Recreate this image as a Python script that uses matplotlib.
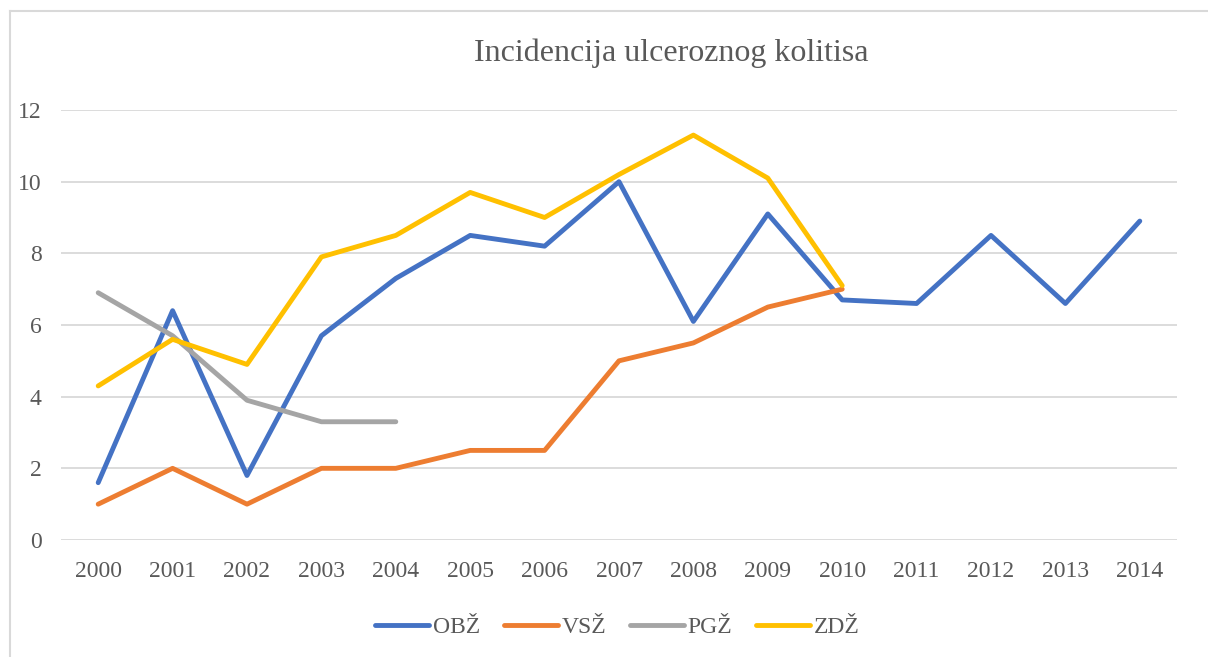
import matplotlib
matplotlib.use("Agg")
from matplotlib import pyplot as plt
from matplotlib.lines import Line2D

years = ['2000', '2001', '2002', '2003', '2004', '2005', '2006', '2007',
         '2008', '2009', '2010', '2011', '2012', '2013', '2014']
obz = [1.6, 6.4, 1.8, 5.7, 7.3, 8.5, 8.2, 10.0, 6.1, 9.1, 6.7, 6.6, 8.5, 6.6, 8.9]
vsz = [1.0, 2.0, 1.0, 2.0, 2.0, 2.5, 2.5, 5.0, 5.5, 6.5, 7.0]
pgz = [6.9, 5.7, 3.9, 3.3, 3.3]
zdz = [4.3, 5.6, 4.9, 7.9, 8.5, 9.7, 9.0, 10.2, 11.3, 10.1, 7.1]

series = [('OBŽ', obz, '#4472C4'), ('VSŽ', vsz, '#ED7D31'),
          ('PGŽ', pgz, '#A5A5A5'), ('ZDŽ', zdz, '#FFC000')]

plt.rcParams['font.family'] = ['Liberation Serif', 'DejaVu Serif']
text_col = '#595959'

fig = plt.figure(figsize=(12.08, 6.57), dpi=100)
ax = fig.add_axes([61 / 1208, 117 / 657, 1116 / 1208, 430 / 657])

for name, vals, col in series:
    ax.plot(range(len(vals)), vals, color=col, lw=3.5, label=name,
            solid_capstyle='round', solid_joinstyle='round')

ax.set_xlim(-0.5, len(years) - 0.5)
ax.set_ylim(0, 12)
ax.set_yticks(range(0, 13, 2))
ax.set_xticks(range(len(years)))
ax.set_xticklabels(years)
ax.tick_params(axis='both', length=0, labelsize=17, labelcolor=text_col)
ax.tick_params(axis='y', pad=14)
ax.tick_params(axis='x', pad=15)
ax.grid(axis='y', color='#d9d9d9', lw=1.3)
ax.set_axisbelow(True)
for s in ax.spines.values():
    s.set_visible(False)

fig.text(0.556, 1 - 53 / 657, 'Incidencija ulceroznog kolitisa', ha='center',
         va='center', fontsize=23, color=text_col)

handles = [Line2D([], [], color=c, lw=3.5, solid_capstyle='round') for _, _, c in series]
fig.legend(handles, [n for n, _, _ in series], loc='center',
           bbox_to_anchor=(0.511, 1 - 627 / 657), ncol=4, frameon=False,
           fontsize=17, labelcolor=text_col, handlelength=2.3,
           handletextpad=0.15, columnspacing=1.0)

# light frame like the exported chart area
fig.add_artist(Line2D([10 / 1208, 1], [1 - 11 / 657, 1 - 11 / 657],
                      color='#d9d9d9', lw=1.5, transform=fig.transFigure))
fig.add_artist(Line2D([10 / 1208, 10 / 1208], [0, 1 - 11 / 657],
                      color='#d9d9d9', lw=1.5, transform=fig.transFigure))

fig.savefig('out.png', dpi=100)
